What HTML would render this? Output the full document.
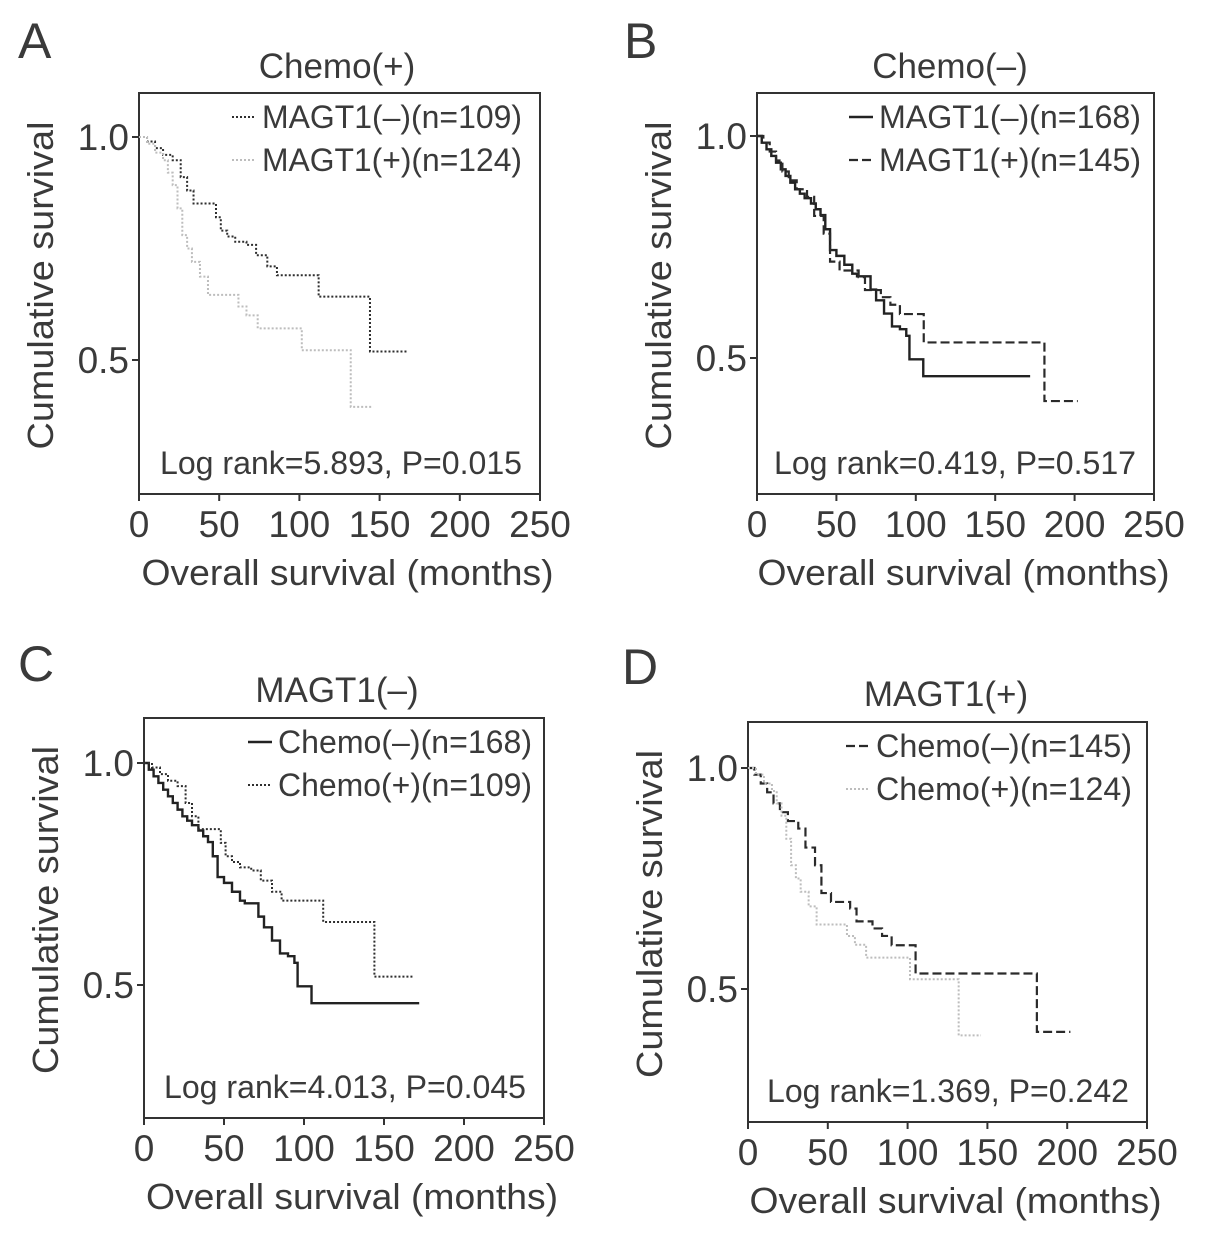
<!DOCTYPE html>
<html><head><meta charset="utf-8"><style>
html,body{margin:0;padding:0;background:#fff;}
svg{display:block;font-family:"Liberation Sans",Arial,sans-serif;}
text{fill:#3a3a3a;}
</style></head><body>
<svg id="fig" width="1205" height="1240" viewBox="0 0 1205 1240"></svg>
<script>
// Kaplan-Meier step data: times (months) where survival drops, survival values after each drop, end of follow-up
const tMagtNegChemoPos = [0,5,10,15,21,26,30,34,48,51,55,60,67,73,80,86,112,144];
const sMagtNegChemoPos = [1,0.99,0.975,0.96,0.948,0.91,0.88,0.851,0.82,0.79,0.777,0.765,0.758,0.735,0.71,0.69,0.642,0.519];
const endMagtNegChemoPos = 168;
const tMagtPosChemoPos = [0,5,10,15,18,21,24,27,30,33,38,43,62,67,74,101.5,132];
const sMagtPosChemoPos = [1,0.985,0.965,0.948,0.92,0.892,0.84,0.78,0.75,0.72,0.687,0.646,0.62,0.60,0.571,0.522,0.395];
const endMagtPosChemoPos = 146;
const tMagtNegChemoNeg = [0,3,6,9,12,15,18,21,24,27,30,34,37,40,43,46,50,55,60,63,71.5,75,80,85,90,94,96,104.7];
const sMagtNegChemoNeg = [1,0.985,0.97,0.955,0.94,0.925,0.91,0.895,0.88,0.87,0.86,0.848,0.835,0.822,0.79,0.743,0.73,0.71,0.69,0.684,0.654,0.63,0.60,0.571,0.565,0.55,0.497,0.459];
const endMagtNegChemoNeg = 172;
const tMagtPosChemoNeg = [0,4,8,12,16,20,25,31.5,36,42,46,52,64,68,78,84,90,105,181];
const sMagtPosChemoNeg = [1,0.985,0.965,0.945,0.92,0.9,0.88,0.863,0.82,0.78,0.717,0.697,0.682,0.653,0.637,0.62,0.599,0.535,0.403];
const endMagtPosChemoNeg = 202;
const xTicks = [0,50,100,150,200,250];
const yTicks = [0.5,1.0];
const yTickLabels = ["0.5","1.0"];

const NS="http://www.w3.org/2000/svg";
const svg=document.getElementById('fig');
function el(tag,attrs,parent){const e=document.createElementNS(NS,tag);for(const k in attrs)e.setAttribute(k,attrs[k]);(parent||svg).appendChild(e);return e;}
function txt(s,attrs,parent){const e=el('text',attrs,parent);e.textContent=s;return e;}

const DARK={stroke:'#2e2e2e',dash:'2 2',w:2};
const LIGHT={stroke:'#bdbdbd',dash:'2 2',w:2};
const SOLID={stroke:'#222',dash:'',w:2.4};
const DASH={stroke:'#2a2a2a',dash:'9 4',w:2.2};

const panels=[
 {id:'a',letter:'A',lx:18,ly:58,title:'Chemo(+)',tx:337,ty:78,L:139,R:540,T:93,B:494,y1:137,y05:360,
  series:[{name:'MAGT1(–)(n=109)',t:tMagtNegChemoPos,s:sMagtNegChemoPos,end:endMagtNegChemoPos,st:DARK},
          {name:'MAGT1(+)(n=124)',t:tMagtPosChemoPos,s:sMagtPosChemoPos,end:endMagtPosChemoPos,st:LIGHT}],
  stat:'Log rank=5.893, P=0.015',legX:262,legW:260},
 {id:'b',letter:'B',lx:624,ly:58,title:'Chemo(–)',tx:950,ty:78,L:757,R:1154,T:93,B:494,y1:136,y05:358,
  series:[{name:'MAGT1(–)(n=168)',t:tMagtNegChemoNeg,s:sMagtNegChemoNeg,end:endMagtNegChemoNeg,st:SOLID},
          {name:'MAGT1(+)(n=145)',t:tMagtPosChemoNeg,s:sMagtPosChemoNeg,end:endMagtPosChemoNeg,st:DASH}],
  stat:'Log rank=0.419, P=0.517',legX:879,legW:262},
 {id:'c',letter:'C',lx:18,ly:681,title:'MAGT1(–)',tx:337,ty:702,L:144,R:544,T:718,B:1118,y1:763,y05:985,
  series:[{name:'Chemo(–)(n=168)',t:tMagtNegChemoNeg,s:sMagtNegChemoNeg,end:endMagtNegChemoNeg,st:SOLID},
          {name:'Chemo(+)(n=109)',t:tMagtNegChemoPos,s:sMagtNegChemoPos,end:endMagtNegChemoPos,st:DARK}],
  stat:'Log rank=4.013, P=0.045',legX:278,legW:254},
 {id:'d',letter:'D',lx:622,ly:684,title:'MAGT1(+)',tx:946,ty:706,L:748,R:1147,T:722,B:1122,y1:768,y05:989,
  series:[{name:'Chemo(–)(n=145)',t:tMagtPosChemoNeg,s:sMagtPosChemoNeg,end:endMagtPosChemoNeg,st:DASH},
          {name:'Chemo(+)(n=124)',t:tMagtPosChemoPos,s:sMagtPosChemoPos,end:endMagtPosChemoPos,st:LIGHT}],
  stat:'Log rank=1.369, P=0.242',legX:876,legW:256}
];

panels.forEach(p=>{
 const g=el('g',{});
 
 
 const xs=v=>p.L+(v/250)*(p.R-p.L);
 const ys=v=>p.y1+(1-v)*(p.y05-p.y1)/0.5;
 const lt=txt(p.letter,{x:p.lx,y:p.ly,'font-size':50},g);
 
 
 const tt=txt(p.title,{x:p.tx,y:p.ty,'font-size':35,'text-anchor':'middle'},g);
 
 
 const box=el('rect',{x:p.L,y:p.T,width:p.R-p.L,height:p.B-p.T,fill:'none',stroke:'#333','stroke-width':2},g);
 
 
 xTicks.forEach(v=>{
  const x=xs(v);
  el('line',{x1:x,x2:x,y1:p.B,y2:p.B+7,stroke:'#333','stroke-width':2},g);
  const l=txt(String(v),{x:x,y:p.B+43,'font-size':37,'text-anchor':'middle'},g);
  
  
 });
 yTicks.forEach((v,i)=>{
  const y=ys(v);
  el('line',{x1:p.L-7,x2:p.L,y1:y,y2:y,stroke:'#333','stroke-width':2},g);
  const l=txt(yTickLabels[i],{x:p.L-10,y:y+13,'font-size':37,'text-anchor':'end'},g);
  
  
 });
 const xt=txt('Overall survival (months)',{x:(p.L+p.R)/2+8,y:p.B+91,'font-size':36,'text-anchor':'middle',textLength:412,lengthAdjust:'spacingAndGlyphs'},g);
 
 
 const cy=(p.T+p.B)/2-8;
 const yt=txt('Cumulative survival',{x:0,y:0,'font-size':36,'text-anchor':'middle',textLength:328,lengthAdjust:'spacingAndGlyphs',transform:`translate(${p.L-86},${cy}) rotate(-90)`},g);
 
 
 p.series.forEach((s,k)=>{
  let d=`M${xs(s.t[0])},${ys(s.s[0])}`;
  for(let i=1;i<s.t.length;i++){d+=` H${xs(s.t[i])} V${ys(s.s[i])}`;}
  d+=` H${xs(s.end)}`;
  const path=el('path',{d:d,fill:'none',stroke:s.st.stroke,'stroke-width':s.st.w,'stroke-dasharray':s.st.dash},g);
  
  
  const ly=p.T+24+k*43;
  const lg=el('g',{},g);
  
  
  el('line',{x1:p.legX-30,x2:p.legX-6,y1:ly,y2:ly,stroke:s.st.stroke,'stroke-width':s.st.w,'stroke-dasharray':s.st.dash},lg);
  txt(s.name,{x:p.legX,y:ly+11,'font-size':32,textLength:p.legW,lengthAdjust:'spacingAndGlyphs'},lg);
 });
 const st=txt(p.stat,{x:p.R-18,y:p.B-20,'font-size':32,'text-anchor':'end',textLength:362,lengthAdjust:'spacingAndGlyphs'},g);
 
 
});
</script>
</body></html>
